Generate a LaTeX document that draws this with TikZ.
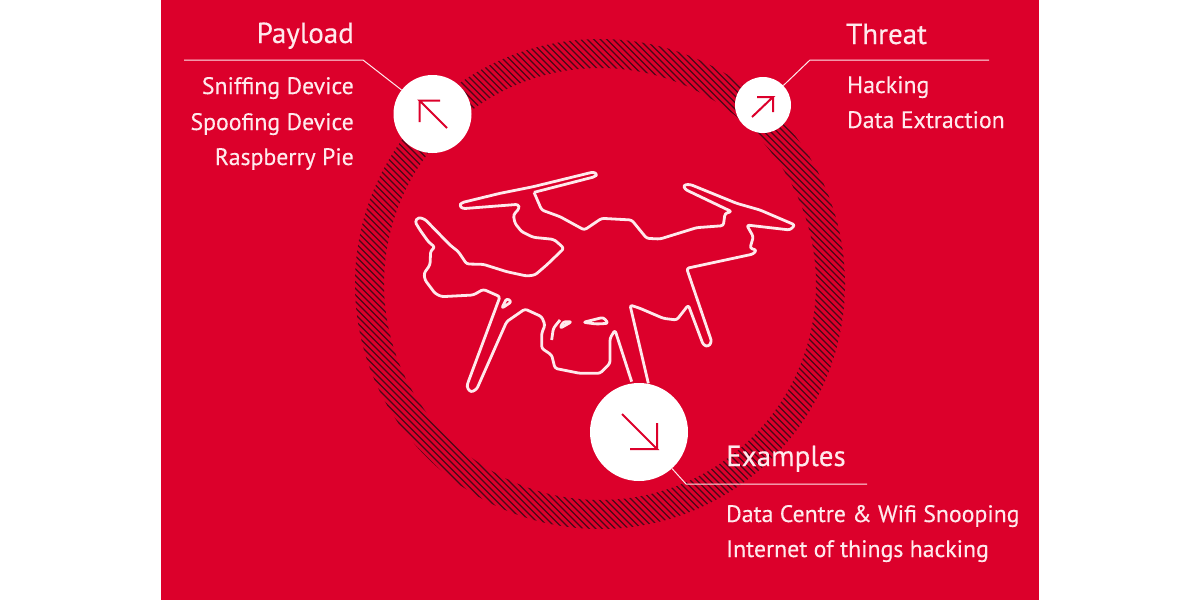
\documentclass[tikz,border=0pt]{standalone}
\usepackage{fontspec}
\setmainfont{PT Sans}[FakeBold=0.3]
\usetikzlibrary{positioning}
\usetikzlibrary{calc}
\definecolor{dronered}{HTML}{DC002B}
\definecolor{hatchdark}{HTML}{4A0818}
\definecolor{softwhite}{HTML}{FFE9EC}
\tikzset{
title/.style={text=softwhite,inner sep=0pt,font=\fontsize{29}{29}\selectfont},
item/.style={text=softwhite,inner sep=0pt,font=\fontsize{23.8}{23.8}\selectfont},
disc/.style={circle,fill=white,inner sep=0pt},
leader/.style={draw=softwhite,line width=1pt},
redarrow/.style={draw=dronered,line width=2pt},
outline/.style={draw=softwhite,line width=2.8pt,rounded corners=2.5pt,line join=round}
}
\begin{document}
\begin{tikzpicture}[x=1pt,y=-1pt]
\useasboundingbox (0,0) rectangle (1200,600);
\fill[white] (0,0) rectangle (1200,600);
\fill[dronered] (161,0) rectangle (1039,600);
% hatched ring
\begin{scope}[even odd rule]
\clip (600,284) circle[radius=245] (600,284) circle[radius=216];
\foreach \c in {-50,-43.5,...,680} {
\draw[hatchdark,line width=1.3pt] (\c,0)--++(600,600);}
\end{scope}
% drone
\begin{scope}[shift={(400,160)},x=1/3*1pt,y=-1/3*1pt]
\draw[outline] (402,97)--(585,50)--(592,42)--(580,36)--(400,80)--(300,100)--(185,128)--(178,137)--(188,146)--(355,133)--(358,145)--(340,165)--(345,190)--(365,215)--(400,232)--(460,238)--(470,245)--(492,265)--(440,315)--(405,345)--(380,348)--(320,335)--(250,313)--(200,312)--(175,275)--(150,255)--(75,178)--(55,172)--(45,185)--(60,210)--(85,245)--(105,262)--(92,272)--(90,315)--(72,340)--(75,360)--(105,400)--(125,410)--(220,405)--(250,388)--(300,410)--(205,665)--(200,680)--(212,697)--(230,688)--(320,485)--(375,447)--(425,470)--(435,495)--(425,520)--(425,565)--(455,585)--(465,625)--(540,640)--(600,640)--(630,610)--(630,535)--(645,510)--(695,665);
\draw[outline] (402,97)--(425,150)--(480,170)--(553,210)--(605,175)--(695,180)--(740,235)--(780,237)--(890,203)--(970,197)--(975,160)--(995,155)--(855,88)--(850,75)--(870,73)--(1010,130)--(1080,150)--(1185,195)--(1170,210)--(1040,195)--(1060,230)--(1050,265)--(1070,270)--(1060,282)--(860,325)--(935,545)--(925,560)--(910,555)--(865,435)--(830,480)--(790,475)--(720,445)--(690,435)--(745,670);
\draw[outline] (305,445)--(320,415)--(335,425)--cycle;
\draw[outline] (455,540)--(460,505)--(480,480);
\draw[outline] (480,505)--(490,485)--(515,485)--cycle;
\draw[outline] (550,487)--(610,472)--(625,490)--(590,492)--cycle;
\end{scope}
% leaders
\coordinate (payloadstart) at (184,60);
\coordinate (payloadknee) at (363,60);
\coordinate (threatstart) at (989,60);
\coordinate (threatknee) at (810,60);
\coordinate (examplesstart) at (867,484);
\coordinate (examplesknee) at (686,484);
\node[disc,minimum size=78pt] (payloaddisc) at (432.5,114) {};
\node[disc,minimum size=56pt] (threatdisc) at (763,105) {};
\node[disc,minimum size=98pt] (examplesdisc) at (639,432) {};
\draw[leader] (payloadstart)--(payloadknee)--(payloaddisc);
\draw[leader] (threatstart)--(threatknee)--(threatdisc);
\draw[leader] (examplesstart)--(examplesknee)--(examplesdisc);
% arrows inside the discs
\draw[redarrow] (447,128)--(419.5,100.5)--(440,100.5) (419.5,100.5)--(419.5,122);
\draw[redarrow] (752,117)--(773,97)--(757,97) (773,97)--(773,112);
\draw[redarrow] (622,414)--(657,449)--(630,449) (657,449)--(657,423);
% labels
\node[title,anchor=base east] (payload) at (354,43) {Payload};
\node[item,anchor=base east] (sniffing) at (354,94) {Sniffing Device};
\node[item,anchor=base east] (spoofing) at (354,130) {Spoofing Device};
\node[item,anchor=base east] (raspberry) at (354,165) {Raspberry Pie};
\node[title,anchor=base west] (threat) at (846,44) {Threat};
\node[item,anchor=base west] (hacking) at (847,93) {Hacking};
\node[item,anchor=base west] (extraction) at (847,128) {Data Extraction};
\node[title,anchor=base west] (examples) at (726,466) {Examples};
\node[item,anchor=base west] (snooping) at (726,522) {Data Centre \& Wifi Snooping};
\node[item,anchor=base west] (things) at (726,557) {Internet of things hacking};
\end{tikzpicture}
\end{document}
